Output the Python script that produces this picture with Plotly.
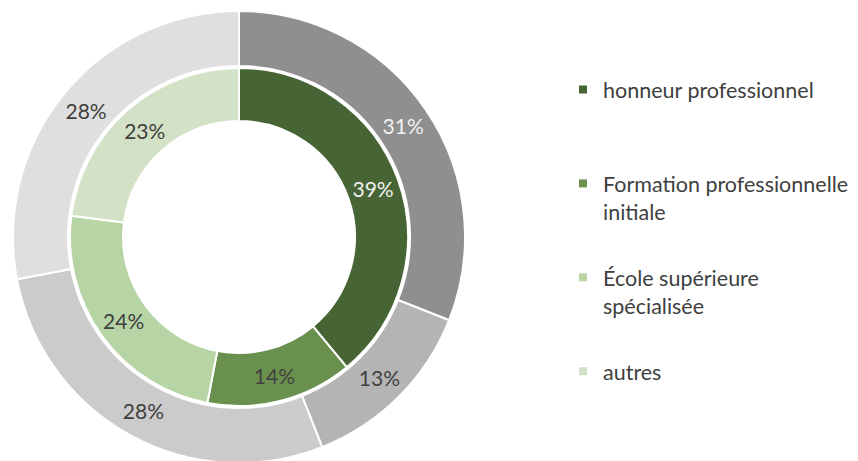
import plotly.graph_objects as go

categories = ["honneur professionnel", "Formation professionnelle<br>initiale",
              "École supérieure<br>spécialisée", "autres"]
legend_names = ["honneur professionnel<br>\u00a0", "Formation professionnelle<br>initiale",
                "École supérieure<br>spécialisée", "autres"]
outer_values = [31, 13, 28, 28]
inner_values = [39, 14, 24, 23]
outer_colors = ["#8f8f8f", "#b4b4b4", "#cbcbcb", "#dfdfdf"]
inner_colors = ["#476534", "#6a904e", "#b7d4a5", "#d3e2c6"]
outer_text_colors = ["#f2f2f2", "#404040", "#404040", "#404040"]
inner_text_colors = ["#f2f2f2", "#404040", "#404040", "#404040"]

W, H = 858, 461
OFF = 8  # page body margin offset
FONT = "Lato"
FS = 21.5

def dom(cx, cy, r):
    cx -= OFF
    cy -= OFF
    return dict(x=[(cx - r) / W, (cx + r) / W],
                y=[(H - cy - r) / H, (H - cy + r) / H])

fig = go.Figure()
fig.add_trace(go.Pie(
    values=outer_values, labels=categories, sort=False, direction="clockwise",
    rotation=0, hole=171 / 226, domain=dom(239, 237, 226),
    marker=dict(colors=outer_colors, line=dict(color="white", width=2)),
    texttemplate="%{percent:.0%}", textposition="inside",
    insidetextorientation="horizontal",
    textfont=dict(family=FONT, size=21, color=outer_text_colors),
    showlegend=False, hoverinfo="skip"))
fig.add_trace(go.Pie(
    values=inner_values, labels=categories, sort=False, direction="clockwise",
    rotation=0, hole=116 / 169, domain=dom(239, 237, 169),
    marker=dict(colors=inner_colors, line=dict(color="white", width=2)),
    texttemplate="%{percent:.0%}", textposition="inside",
    insidetextorientation="horizontal",
    textfont=dict(family=FONT, size=21, color=inner_text_colors),
    showlegend=False, hoverinfo="skip"))

for i, (name, col) in enumerate(zip(legend_names, inner_colors)):
    fig.add_trace(go.Scatter(
        x=[None], y=[None], mode="markers", name=name, legendgroup=f"g{i}",
        marker=dict(symbol="square", size=8, color=col), showlegend=True))

fig.update_layout(
    width=W, height=H, margin=dict(l=0, r=0, t=0, b=0),
    paper_bgcolor="white", plot_bgcolor="white",
    xaxis=dict(visible=False), yaxis=dict(visible=False),
    font=dict(family=FONT, size=FS, color="#404040"),
    legend=dict(x=555 / W, y=1 - 61 / H, xanchor="left", yanchor="top",
                tracegroupgap=35, valign="top", itemclick=False,
                font=dict(family=FONT, size=FS, color="#404040")),
)
fig.write_html("out.html")
